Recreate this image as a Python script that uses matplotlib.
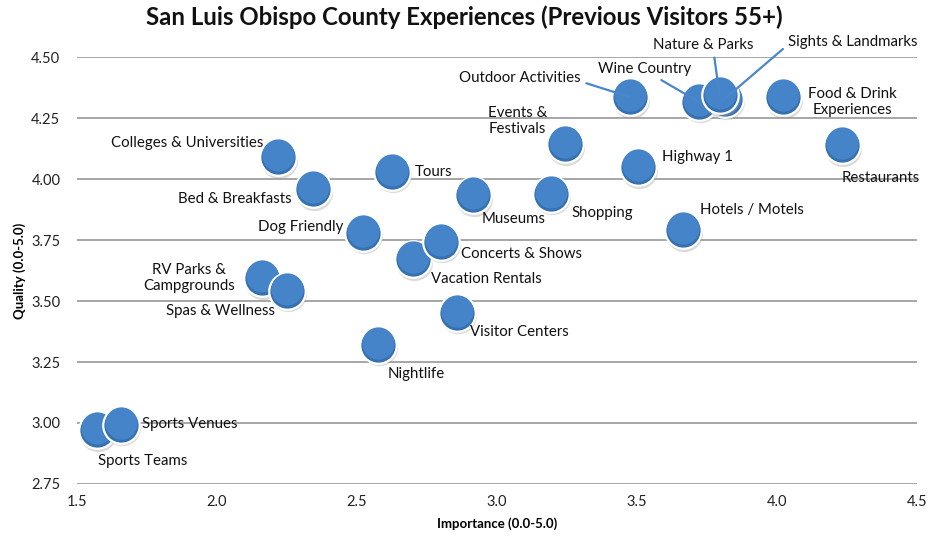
import matplotlib
matplotlib.use("Agg")
import matplotlib.pyplot as plt
import matplotlib.transforms as mtransforms

plt.rcParams['font.family'] = ['Lato', 'DejaVu Sans']

# data
names = ["Sports Teams", "Sports Venues", "RV Parks &\nCampgrounds", "Spas & Wellness",
         "Colleges & Universities", "Bed & Breakfasts", "Dog Friendly", "Tours",
         "Nightlife", "Vacation Rentals", "Concerts & Shows", "Museums",
         "Visitor Centers", "Events &\nFestivals", "Shopping", "Highway 1",
         "Outdoor Activities", "Wine Country", "Sights & Landmarks", "Nature & Parks",
         "Food & Drink\nExperiences", "Restaurants", "Hotels / Motels"]
importance = [1.571, 1.657, 2.162, 2.251, 2.219, 2.343, 2.521, 2.625,
              2.575, 2.699, 2.799, 2.916, 2.856, 3.244, 3.194, 3.504,
              3.475, 3.721, 3.813, 3.795, 4.020, 4.233, 3.664]
quality = [2.971, 2.992, 3.594, 3.541, 4.090, 3.959, 3.779, 4.029,
           3.320, 3.672, 3.742, 3.934, 3.451, 4.143, 3.939, 4.049,
           4.336, 4.316, 4.328, 4.344, 4.336, 4.139, 3.791]
xticks = [1.5, 2.0, 2.5, 3.0, 3.5, 4.0, 4.5]
yticks = [2.75, 3.00, 3.25, 3.50, 3.75, 4.00, 4.25, 4.50]

# label offsets in pixels (dx, dy, ha, leader start on the text box or None)
label_pos = {
    "Sports Teams": (46, -31, "center", None),
    "Sports Venues": (21, 1, "left", None),
    "RV Parks &\nCampgrounds": (-73, 0, "center", None),
    "Spas & Wellness": (-67, -20, "center", None),
    "Colleges & Universities": (-15, 14, "right", None),
    "Bed & Breakfasts": (-21, -10, "right", None),
    "Dog Friendly": (-19, 6, "right", None),
    "Tours": (23, 0, "left", None),
    "Nightlife": (38, -29, "center", None),
    "Vacation Rentals": (18, -20, "left", None),
    "Concerts & Shows": (20, -12, "left", None),
    "Museums": (40, -24, "center", None),
    "Visitor Centers": (13, -19, "left", None),
    "Events &\nFestivals": (-48, 23, "center", None),
    "Shopping": (20, -19, "left", None),
    "Highway 1": (24, 10, "left", None),
    "Outdoor Activities": (-49, 19, "right", (1.0, 0.25)),
    "Wine Country": (-54, 33, "center", (0.6, 0.0)),
    "Sights & Landmarks": (128, 57, "center", (0.0, 0.3)),
    "Nature & Parks": (-16, 50, "center", (0.6, 0.0)),
    "Food & Drink\nExperiences": (70, -5, "center", None),
    "Restaurants": (39, -33, "center", None),
    "Hotels / Motels": (17, 20, "left", None),
}

fig = plt.figure(figsize=(9.29, 5.44), dpi=100)
ax = fig.add_axes([0.0829, 0.1103, 0.9041, 0.7849])
ax.set_xlim(1.5, 4.5)
ax.set_ylim(2.75, 4.5)

for sp in ax.spines.values():
    sp.set_visible(False)
ax.set_yticks(yticks)
ax.set_yticklabels(["%.2f" % v for v in yticks])
ax.set_xticks(xticks)
ax.set_xticklabels(["%.1f" % v for v in xticks])
ax.tick_params(length=0, labelsize=10.5, colors="#222222")
ax.tick_params(axis="y", pad=12)
ax.tick_params(axis="x", pad=8)
ax.yaxis.grid(True, color="#a6a6a6", linewidth=1.4)
ax.set_axisbelow(True)

# bubbles: soft shadow, body with white rim, lighter top
shadow = mtransforms.offset_copy(ax.transData, fig=fig, x=1, y=-2.5, units="dots")
hilite = mtransforms.offset_copy(ax.transData, fig=fig, x=0, y=2, units="dots")
for i in range(len(names)):
    x, y = importance[i], quality[i]
    ax.scatter([x], [y], s=720, color="#9a9a9a", alpha=0.35, linewidths=0,
               transform=shadow, zorder=2 + i * 0.01)
    ax.scatter([x], [y], s=690, color="#3570b0", edgecolors="white",
               linewidths=1.6, zorder=2.002 + i * 0.01)
    ax.scatter([x], [y], s=540, color="#4584c8", linewidths=0,
               transform=hilite, zorder=2.004 + i * 0.01)

for i, nm in enumerate(names):
    dx, dy, ha, leader = label_pos[nm]
    kw = dict(xy=(importance[i], quality[i]),
              xytext=(dx * 0.72, dy * 0.72), textcoords="offset points",
              ha=ha, va="center", fontsize=10.8, color="#111111",
              multialignment="center", zorder=5)
    if leader is not None:
        kw["arrowprops"] = dict(arrowstyle="-", color="#4a86c8", lw=1.6,
                                shrinkA=2, shrinkB=0, relpos=leader)
    ax.annotate(nm, **kw)

fig.suptitle("San Luis Obispo County Experiences (Previous Visitors 55+)",
             x=0.5, y=0.99, fontsize=17.3, fontweight="bold", color="#111111")
ax.set_xlabel("Importance (0.0-5.0)", fontsize=9.5, fontweight="bold", labelpad=6)
ax.set_ylabel("Quality (0.0-5.0)", fontsize=9.5, fontweight="bold", labelpad=4)

fig.savefig("out.png", dpi=100)
